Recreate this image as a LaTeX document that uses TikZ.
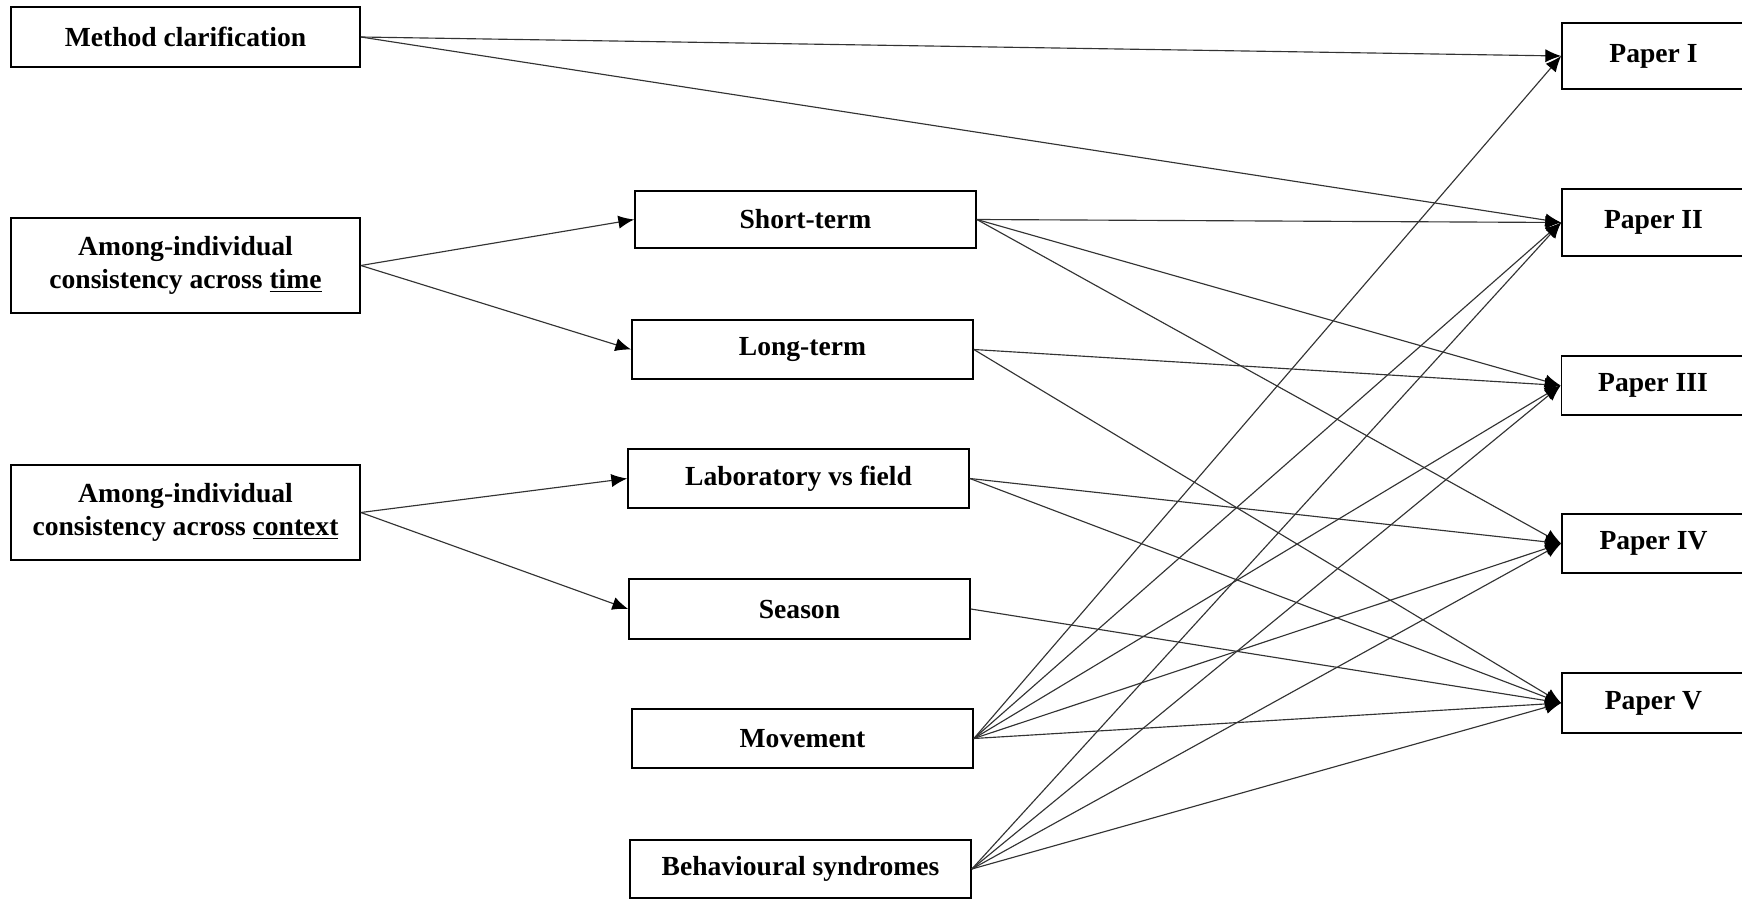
\documentclass[tikz,border=0pt]{standalone}
\usepackage{fontspec}
\setmainfont{Liberation Serif}
\usetikzlibrary{arrows.meta}

\begin{document}
\begin{tikzpicture}[x=0.02cm,y=-0.02cm,
        box/.style={draw,line width=1pt,fill=white,align=center,inner sep=0pt,
                font=\bfseries\fontsize{15.7}{19}\selectfont},
        link/.style={line width=0.65pt,draw=black!80,-{Latex[length=9pt,width=7.5pt,color=black]}}]
        \useasboundingbox (0,0) rectangle (1742,899);
        \clip (0,0) rectangle (1742,899);

        % left column
        \node[box,minimum width=6.98cm,minimum height=1.2cm] (method) at (185.5,37) {Method clarification};
        \node[box,minimum width=6.98cm,minimum height=1.9cm] (time) at (185.5,265.5) {Among-individual\\consistency across \underline{time}};
        \node[box,minimum width=6.98cm,minimum height=1.9cm] (context) at (185.5,512.5) {Among-individual\\consistency across \underline{context}};

        % middle column
        \node[box,minimum width=6.82cm,minimum height=1.14cm] (short) at (805.5,219.5) {Short-term};
        \node[box,minimum width=6.82cm,minimum height=1.18cm] (long) at (802.5,349.5) {Long-term};
        \node[box,minimum width=6.82cm,minimum height=1.18cm] (lab) at (798.5,478.5) {Laboratory vs field};
        \node[box,minimum width=6.82cm,minimum height=1.2cm] (season) at (799.5,609) {Season};
        \node[box,minimum width=6.82cm,minimum height=1.18cm] (movement) at (802.5,738.5) {Movement};
        \node[box,minimum width=6.82cm,minimum height=1.16cm] (syndromes) at (800.5,869) {Behavioural syndromes};

        % papers
        \node[box,minimum width=3.66cm,minimum height=1.32cm] (p1) at (1653.5,56) {Paper I};
        \node[box,minimum width=3.66cm,minimum height=1.34cm] (p2) at (1653.5,222.5) {Paper II};
        \node[box,minimum width=3.66cm,minimum height=1.18cm] (p3) at (1653,385.5) {Paper III};
        \node[box,minimum width=3.66cm,minimum height=1.18cm] (p4) at (1653.5,543.5) {Paper IV};
        \node[box,minimum width=3.66cm,minimum height=1.2cm] (p5) at (1653.5,703) {Paper V};

        \draw[link] (method.east) -- (p1.west);
        \draw[link] (method.east) -- (p2.west);
        \draw[link] (time.east) -- (short.west);
        \draw[link] (time.east) -- (long.west);
        \draw[link] (context.east) -- (lab.west);
        \draw[link] (context.east) -- (season.west);
        \draw[link] (short.east) -- (p2.west);
        \draw[link] (short.east) -- (p3.west);
        \draw[link] (short.east) -- (p4.west);
        \draw[link] (long.east) -- (p3.west);
        \draw[link] (long.east) -- (p5.west);
        \draw[link] (lab.east) -- (p4.west);
        \draw[link] (lab.east) -- (p5.west);
        \draw[link] (season.east) -- (p5.west);
        \foreach \p in {p1,p2,p3,p4,p5}
            \draw[link] (movement.east) -- (\p.west);
        \foreach \p in {p2,p3,p4,p5}
            \draw[link] (syndromes.east) -- (\p.west);
    \end{tikzpicture}
\end{document}
